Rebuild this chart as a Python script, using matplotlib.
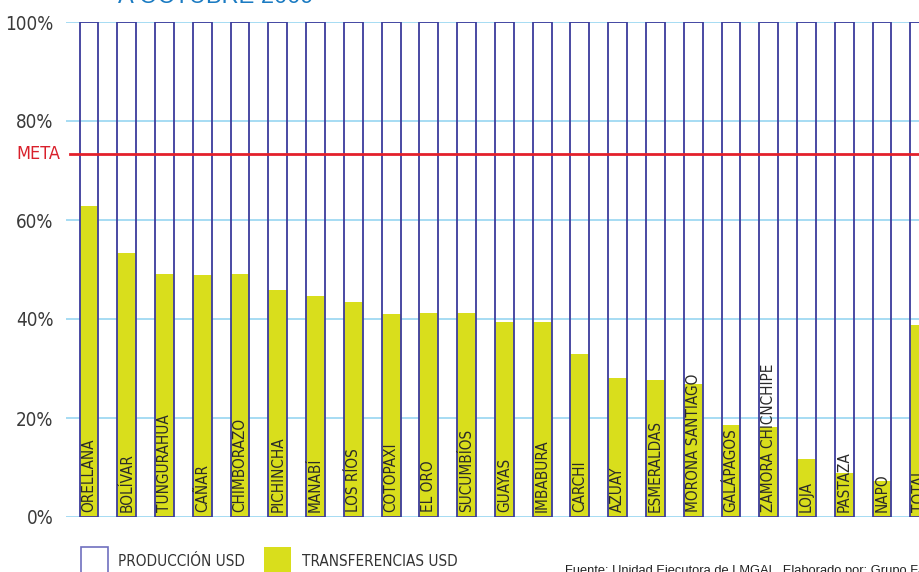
import matplotlib
matplotlib.use("Agg")
import matplotlib.pyplot as plt
from matplotlib.font_manager import FontProperties

provincias = ["ORELLANA", "BOLÍVAR", "TUNGURAHUA", "CAÑAR", "CHIMBORAZO", "PICHINCHA",
              "MANABÍ", "LOS RÍOS", "COTOPAXI", "EL ORO", "SUCUMBÍOS", "GUAYAS",
              "IMBABURA", "CARCHI", "AZUAY", "ESMERALDAS", "MORONA SANTIAGO",
              "GALÁPAGOS", "ZAMORA CHICNCHIPE", "LOJA", "PASTAZA", "NAPO", "TOTAL"]
produccion = [100] * 23
transferencias = [62.8, 53.3, 49.1, 48.9, 49.1, 45.9, 44.6, 43.4, 41.0, 41.2, 41.2, 39.4,
                  39.4, 32.9, 28.1, 27.7, 26.9, 18.6, 18.2, 11.7, 8.9, 7.3, 38.8]
meta = 73.3
yticks = [0, 20, 40, 60, 80, 100]
ytick_labels = ["0%", "20%", "40%", "60%", "80%", "100%"]
legend_labels = ["PRODUCCIÓN USD", "TRANSFERENCIAS USD"]
title = "A OCTUBRE 2009"
fuente = "Fuente: Unidad Ejecutora de LMGAL. Elaborado por: Grupo Faro"


def narrow(size):
    return FontProperties(family="DejaVu Sans", stretch="condensed", size=size)


W, H = 919, 572
fig = plt.figure(figsize=(W / 100, H / 100), dpi=100)
ax = fig.add_axes([66 / W, 1 - 517 / H, 1 - 66 / W, (517 - 22) / H])

x = list(range(len(provincias)))
ax.set_xlim(-0.609, 21.98)
ax.set_ylim(0, 100)

for yt in yticks:
    ax.axhline(yt, color="#a6dcf3", lw=1.4, zorder=0)

ax.bar(x, transferencias, width=0.5, color="#d9de1c", edgecolor="none", zorder=2)
ax.bar(x, produccion, width=0.5, fill=False, edgecolor="#3c3c9c", lw=1.3, zorder=3)

ax.plot([-0.5, 22.5], [meta, meta], color="#e3202b", lw=2, zorder=4)

for xi, name in zip(x, provincias):
    ax.text(xi, 1.0, name, rotation=90, ha="center", va="bottom",
            fontproperties=narrow(11), color="#2a2a2a", zorder=5)

for spine in ax.spines.values():
    spine.set_visible(False)
ax.set_xticks([])
ax.set_yticks(yticks)
ax.set_yticklabels(ytick_labels, color="#3a3a3a")
for lab in ax.get_yticklabels():
    lab.set_fontproperties(narrow(13.5))
ax.tick_params(axis="y", length=0, pad=9)
ax.text(-0.76, meta, "META", ha="right", va="center", fontproperties=narrow(13),
        color="#d9202b")

# title (mostly cut off at the top, as in the source)
fig.text(118 / W, 1 - 3 / H, title, ha="left", va="baseline", fontsize=17,
         color="#1b7bc2", family="Liberation Sans")

# legend
fig.patches.append(plt.Rectangle((81 / W, 1 - 600 / H), 27 / W, 53 / H, fill=False,
                                 edgecolor="#6f6fbf", lw=1.2, transform=fig.transFigure))
fig.patches.append(plt.Rectangle((264 / W, 1 - 600 / H), 27 / W, 53 / H, facecolor="#d9de1c",
                                 edgecolor="none", transform=fig.transFigure))
fig.text(118 / W, 1 - 561.5 / H, legend_labels[0], ha="left", va="center",
         fontproperties=narrow(11), color="#333333")
fig.text(302 / W, 1 - 561.5 / H, legend_labels[1], ha="left", va="center",
         fontproperties=narrow(11), color="#333333")

fig.text(565 / W, 1 - 565 / H, fuente, ha="left", va="top", fontsize=9.3,
         family="Liberation Sans", color="#222222")

fig.savefig("out.png", dpi=100)
